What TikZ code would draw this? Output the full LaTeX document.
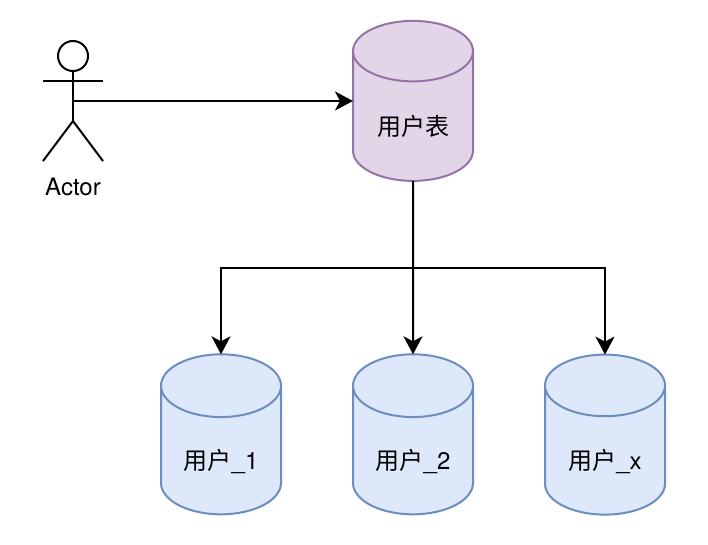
\documentclass[tikz,border=0pt]{standalone}
\usepackage{fontspec}
\setmainfont{TeX Gyre Heros}
\newfontfamily\cjk{Noto Sans CJK SC}
\usetikzlibrary{arrows.meta,shapes.geometric}
\begin{document}
\begin{tikzpicture}[x=1pt,y=1pt]
  \tikzset{ db/.style={cylinder,shape border rotate=90,aspect=0.84,draw,line width=2pt,inner sep=0pt,outer sep=0pt,
      minimum width=120pt,minimum height=160pt,font=\fontsize{24}{28}\selectfont,text height=42pt,text depth=5pt},
    purpledb/.style={db,fill=purplefill,draw=purpleline},
    bluedb/.style={db,fill=bluefill,draw=blueline},
    man/.style={line width=2pt},
    link/.style={line width=2pt,-{Stealth[length=18pt,width=19pt,inset=5pt]}},
  }
  \definecolor{purplefill}{HTML}{E1D5E7}
  \definecolor{purpleline}{HTML}{9673A6}
  \definecolor{bluefill}{HTML}{DDE8FB}
  \definecolor{blueline}{HTML}{6C8EBF}
  \useasboundingbox (0,0) rectangle (708,-544);

  \node[purpledb] (table) at (413,-116.5) {{\cjk 用户表}};
  \node[bluedb] (user1) at (221,-450.5) {{\cjk 用户}\_1};
  \node[bluedb] (user2) at (413,-450.5) {{\cjk 用户}\_2};
  \node[bluedb] (userx) at (605,-450.5) {{\cjk 用户}\_x};

  % the actor
  \node[circle,draw,man,inner sep=0pt,minimum size=30pt] (head) at (73,-56) {};
  \coordinate (crotch) at (73,-121);
  \coordinate (hand1) at (43,-81);
  \coordinate (hand2) at (103,-81);
  \coordinate (foot1) at (43,-161);
  \coordinate (foot2) at (103,-161);
  \coordinate (hip) at (73,-101);
  \coordinate (fork) at (413,-268);
  \draw[man] (head) -- (crotch);
  \draw[man] (hand1) -- (hand2);
  \draw[man] (foot1) -- (crotch) -- (foot2);
  \node[font=\fontsize{24}{28}\selectfont] (actor) at (73,-187) {Actor};

  % the connections
  \draw[link] (hip) -- (table.west |- hip);
  \draw[link] (table.south) -- (user2.north);
  \draw[link] (fork) -| (user1.north);
  \draw[link] (fork) -| (userx.north);
\end{tikzpicture}
\end{document}
